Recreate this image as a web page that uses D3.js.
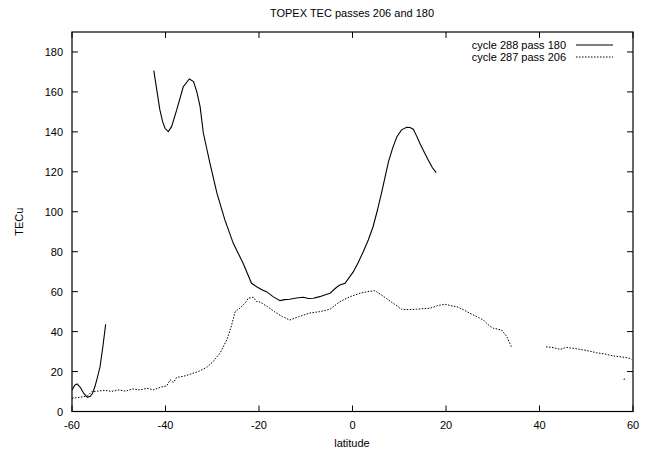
<!DOCTYPE html>
<html>
<head>
<meta charset="UTF-8">
<script src="https://d3js.org/d3.v7.min.js"></script>
<style>
  body { margin: 0; background: #fff; }
  text { font-family: "Liberation Sans", Arial, sans-serif; font-size: 11px; fill: #000; }
</style>
</head>
<body>
<svg id="canvas"></svg>
<script>
// data: [latitude, TECu]
const pass180a = [[-60, 10.8], [-59.4, 13.2], [-58.9, 13.8], [-58.2, 12], [-57.4, 8.8], [-56.7, 7.1], [-56.1, 7.6],
  [-55.6, 9.1], [-55.1, 12.5], [-54.7, 15.8], [-54, 22.4], [-53.4, 32.4], [-52.8, 43.7]];
const pass180b = [[-42.5, 170.7], [-41.8, 160], [-41.2, 151], [-40.6, 145], [-40.1, 141.8], [-39.4, 140.1], [-38.7, 142.6],
  [-37.6, 151], [-36.2, 162.6], [-34.9, 166.5], [-34.0, 165.2], [-33.3, 160], [-32.6, 152.6], [-31.9, 139.3],
  [-30.5, 124.3], [-29.0, 109.3], [-27.3, 95.9], [-25.5, 84.2], [-23.4, 74.2], [-21.6, 64.2], [-20.5, 62.5],
  [-19.4, 61], [-18.4, 60], [-17, 57.5], [-15.5, 55.5], [-14.5, 56], [-13.4, 56.2], [-12, 56.8], [-10.5, 57.2],
  [-9.5, 56.6], [-8.4, 56.7], [-7, 57.5], [-5.5, 58.7], [-4.8, 59.2], [-3.4, 62.2], [-2.7, 63.3], [-1.6, 64.2],
  [0.2, 70], [1.2, 74.5], [2.3, 80], [3.4, 86], [4.4, 92.5], [5.3, 100.5], [6.2, 109.3], [7.7, 125.1], [8.6, 132],
  [9.5, 137.6], [10.5, 141], [11.6, 142.3], [12.3, 142.2], [13.0, 141.3], [13.7, 138], [14.4, 134.3], [15.3, 130],
  [16.2, 125.9], [17.1, 122], [17.9, 119.6]];
const pass206a = [[-60, 6.6], [-58.8, 7], [-57.6, 7.4], [-56.7, 7.8], [-55.8, 9.9], [-54.5, 10.2], [-53, 10.6],
  [-51.5, 10.1], [-50, 10.8], [-48.5, 10.2], [-47, 11.3], [-45.5, 10.8], [-44, 11.6], [-42.5, 10.9], [-41, 12.2],
  [-39.75, 12.8], [-39.0, 15.8], [-38.3, 14.5], [-37.6, 17.1], [-36.2, 17.6], [-34.8, 18.6], [-33, 20], [-31.2, 22.1],
  [-29.8, 25], [-28.3, 29.4], [-26.9, 35.8], [-26, 42], [-25.1, 50], [-24.1, 51.7], [-22.9, 54.5], [-22.3, 56.7],
  [-21.2, 57.2], [-20.5, 55], [-19.8, 54.8], [-18.2, 52.5], [-16.6, 49.8], [-15, 47.5], [-13.4, 45.8], [-11.5, 47.5],
  [-9.1, 49.3], [-7, 50], [-4.8, 51.2], [-2.7, 55], [-0.5, 57.5], [1.6, 59.2], [3.2, 60], [4.8, 60.5], [5.9, 58.8],
  [7.3, 56.5], [8.7, 54.2], [10.5, 51.2], [12, 51], [13.7, 51.2], [15.2, 51.5], [16.6, 51.7], [18.2, 53], [19.8, 53.7],
  [21, 53], [22.3, 52.5], [23.7, 51], [25.1, 49.2], [26.6, 47.5], [28.0, 45.8], [29, 43.5], [30.1, 41.7], [31.9, 40.8],
  [33.0, 37.5], [34.0, 32.4]];
const pass206b = [[41.4, 32.4], [42.9, 32], [44.4, 31.1], [45.8, 32.1], [47.6, 31.5], [49.4, 30.8], [50.8, 30.2],
  [52.2, 29.4], [54, 28.8], [55.8, 27.8], [57.6, 27.3], [59.4, 26.6], [59.7, 26.1]];
const pass206c = [[58.0, 16.1], [58.5, 16.4]];

const xTicks = [-60, -40, -20, 0, 20, 40, 60];
const yTicks = [0, 20, 40, 60, 80, 100, 120, 140, 160, 180];
const legendLabels = ["cycle 288 pass 180", "cycle 287 pass 206"];

const width = 648, height = 452;
const margin = {left: 72, right: 15, top: 32, bottom: 40.5};
const w = width - margin.left - margin.right;
const h = height - margin.top - margin.bottom;

const svg = d3.select("#canvas").attr("width", width).attr("height", height);
const g = svg.append("g").attr("transform", "translate(" + margin.left + "," + margin.top + ")");

const x = d3.scaleLinear().domain([-60, 60]).range([0, w]);
const y = d3.scaleLinear().domain([0, 190]).range([h, 0]);

// border
g.append("rect").attr("width", w).attr("height", h)
  .attr("fill", "none").attr("stroke", "#000").attr("stroke-width", 1.2);

// gnuplot style inward ticks on all four sides
const tl = 6;
g.selectAll(".xt").data(xTicks).enter().append("path")
  .attr("d", d => "M" + x(d) + "," + h + "v" + (-tl) + "M" + x(d) + ",0v" + tl)
  .attr("stroke", "#000");
g.selectAll(".yt").data(yTicks).enter().append("path")
  .attr("d", d => "M0," + y(d) + "h" + tl + "M" + w + "," + y(d) + "h" + (-tl))
  .attr("stroke", "#000");

g.selectAll(".xl").data(xTicks).enter().append("text")
  .attr("x", d => x(d)).attr("y", h + 17).attr("text-anchor", "middle").text(d => d);
g.selectAll(".yl").data(yTicks).enter().append("text")
  .attr("x", -9).attr("y", d => y(d) + 4).attr("text-anchor", "end").text(d => d);

svg.append("text").attr("x", 352).attr("y", 17).attr("text-anchor", "middle").text("TOPEX TEC passes 206 and 180");
svg.append("text").attr("x", 352).attr("y", 447).attr("text-anchor", "middle").text("latitude");
svg.append("text").attr("transform", "translate(23," + (margin.top + h / 2) + ") rotate(-90)")
  .attr("text-anchor", "middle").text("TECu");

const line = d3.line().x(d => x(d[0])).y(d => y(d[1]));

[pass180a, pass180b].forEach(s => {
  g.append("path").attr("d", line(s)).attr("fill", "none")
    .attr("stroke", "#000").attr("stroke-width", 1.1);
});
[pass206a, pass206b, pass206c].forEach(s => {
  g.append("path").attr("d", line(s)).attr("fill", "none")
    .attr("stroke", "#000").attr("stroke-width", 1).attr("stroke-dasharray", "1.5,1.5");
});

// legend
const lg = svg.append("g");
legendLabels.forEach((t, i) => {
  const ly = 45 + i * 12;
  lg.append("text").attr("x", 566).attr("y", ly + 4).attr("text-anchor", "end").text(t);
  lg.append("line").attr("x1", 576).attr("x2", 613).attr("y1", ly).attr("y2", ly)
    .attr("stroke", "#000").attr("stroke-width", i ? 1 : 1.1)
    .attr("stroke-dasharray", i ? "1.5,1.5" : null);
});
</script>
</body>
</html>
